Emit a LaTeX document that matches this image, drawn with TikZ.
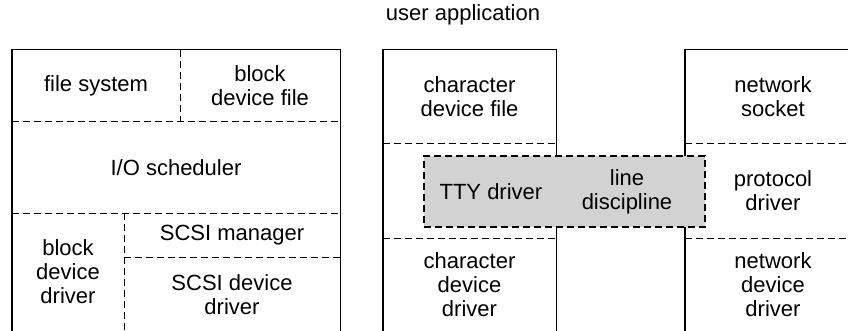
\documentclass[tikz,border=0pt]{standalone}
\usepackage{fontspec}
\setmainfont{Liberation Sans}
\usetikzlibrary{positioning}
\definecolor{ttyShade}{HTML}{D2D2D2}

\tikzset{
  cell/.style={inner sep=0pt,align=center},
  frame/.style={line width=0.9pt},
  divider/.style={line width=0.8pt,dash pattern=on 3.5pt off 2pt},
}

\begin{document}
\begin{tikzpicture}[x=0.5pt,y=-0.5pt,font=\fontsize{11}{12}\selectfont]
  \useasboundingbox (0,0) rectangle (848,331);
  \clip (0,0) rectangle (848,331);

  \node[cell] (app) at (463,15) {user application};

  % block device stack
  \node[cell,minimum width=84pt,minimum height=36pt] (fs) at (96,86) {file system};
  \node[cell,minimum width=80pt,minimum height=36pt] (bdf) at (260,86) {block\\device file};
  \node[cell,minimum width=164pt,minimum height=45.5pt] (io) at (176,167.5) {I/O scheduler};
  \node[cell,minimum width=56pt,minimum height=59pt] (bdd) at (68,272) {block\\device\\driver};
  \node[cell,minimum width=108pt,minimum height=22.5pt] (scsim) at (232,235.5) {SCSI manager};
  \node[cell,minimum width=108pt,minimum height=36.5pt] (scsid) at (232,294.5) {SCSI device\\driver};

  \draw[frame] (bdd.south west) -- (fs.north west) -- (bdf.north east) -- (scsid.south east);
  \draw[divider] (fs.north east) -- (fs.south east);
  \draw[divider] (io.north west) -- (io.north east);
  \draw[divider] (io.south west) -- (io.south east);
  \draw[divider] (bdd.north east) -- (bdd.south east);
  \draw[divider] (scsid.north west) -- (scsid.north east);

  % character device stack
  \node[cell,minimum width=86.5pt,minimum height=47pt] (cdf) at (469.5,97) {character\\device file};
  \node[cell,minimum width=86.5pt,minimum height=47pt] (cmid) at (469.5,191) {};
  \node[cell,minimum width=86.5pt,minimum height=46.5pt] (cdd) at (469.5,284.5) {character\\device\\driver};

  \draw[frame] (cdd.south west) -- (cdf.north west) -- (cdf.north east) -- (cdd.south east);
  \draw[divider] (cmid.north west) -- (cmid.north east);
  \draw[divider] (cmid.south west) -- (cmid.south east);

  % network stack
  \node[cell,minimum width=88pt,minimum height=47pt] (ns) at (773,97) {network\\socket};
  \node[cell,minimum width=88pt,minimum height=47pt] (pd) at (773,191) {protocol\\driver};
  \node[cell,minimum width=88pt,minimum height=46.5pt] (ndd) at (773,284.5) {network\\device\\driver};

  \draw[frame] (ndd.south west) -- (ns.north west) -- (ns.north east);
  \draw[divider] (pd.north west) -- (pd.north east);
  \draw[divider] (pd.south west) -- (pd.south east);

  % tty layer across both stacks
  \node[draw,divider,fill=ttyShade,minimum width=140.5pt,minimum height=35.5pt] (tty) at (564.5,191.5) {};
  \node[cell,right=8pt of tty.west] (ttyd) {TTY driver};
  \node[cell] (ldisc) at (627,192) {line\\discipline};
\end{tikzpicture}
\end{document}
